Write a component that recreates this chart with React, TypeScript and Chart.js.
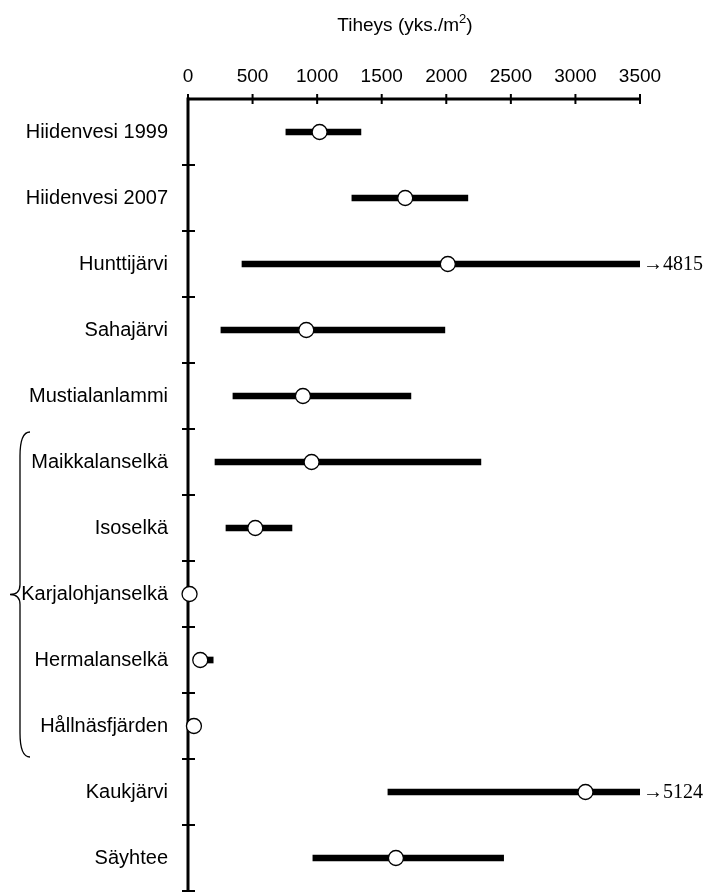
import { useEffect, useRef } from "react";
import { Chart, registerables } from "chart.js";

Chart.register(...registerables);

const categories = [
  "Hiidenvesi 1999",
  "Hiidenvesi 2007",
  "Hunttijärvi",
  "Sahajärvi",
  "Mustialanlammi",
  "Maikkalanselkä",
  "Isoselkä",
  "Karjalohjanselkä",
  "Hermalanselkä",
  "Hållnäsfjärden",
  "Kaukjärvi",
  "Säyhtee",
];
const means = [1019, 1682, 2012, 916, 890, 957, 521, 12, 95, 46, 3078, 1610];
const lows: (number | null)[] = [758, 1269, 418, 255, 348, 209, 294, null, 60, 10, 1548, 967];
const highs: (number | null)[] = [1339, 2167, 4815, 1989, 1726, 2268, 805, null, 195, 80, 5124, 2444];
const xTicks = [0, 500, 1000, 1500, 2000, 2500, 3000, 3500];
const xMin = 0;
const xMax = 3500;
const axisTitleMain = "Tiheys (yks./m";
const axisTitleSup = "2";
const axisTitleEnd = ")";
const groupFirst = 5; // Maikkalanselkä
const groupLast = 9; // Hållnäsfjärden

const SANS = "'Liberation Sans', Arial, sans-serif";
const SERIF = "'Liberation Serif', 'Times New Roman', serif";

const customPlugin = {
  id: "custom",
  beforeDatasetsDraw(chart: any) {
    const ctx = chart.ctx;
    const xs = chart.scales.x;
    const ys = chart.scales.y;
    const { left, right, top, bottom } = chart.chartArea;
    ctx.save();
    ctx.strokeStyle = "#000";
    ctx.lineWidth = 3;
    ctx.beginPath();
    ctx.moveTo(left, top);
    ctx.lineTo(right + 1, top);
    ctx.stroke();
    ctx.beginPath();
    ctx.moveTo(left, top - 1.5);
    ctx.lineTo(left, bottom);
    ctx.stroke();
    ctx.lineWidth = 2;
    xTicks.forEach((v) => {
      const px = xs.getPixelForValue(v);
      ctx.beginPath();
      ctx.moveTo(px, top - 5);
      ctx.lineTo(px, top + 5);
      ctx.stroke();
    });
    for (let i = 0; i < categories.length; i++) {
      const py = ys.getPixelForValue(i + 0.5);
      ctx.beginPath();
      ctx.moveTo(left - 6, py);
      ctx.lineTo(left + 7, py);
      ctx.stroke();
    }
    ctx.restore();
  },
  afterDatasetsDraw(chart: any) {
    const ctx = chart.ctx;
    const xs = chart.scales.x;
    const ys = chart.scales.y;
    const { right } = chart.chartArea;
    ctx.save();
    ctx.fillStyle = "#000";
    ctx.font = `20px ${SERIF}`;
    ctx.textAlign = "left";
    ctx.textBaseline = "middle";
    highs.forEach((h, i) => {
      if (h != null && h > xMax) {
        ctx.fillText("\u2192" + h, right + 3, ys.getPixelForValue(i) + 1);
      }
    });
    const y1 = ys.getPixelForValue(groupFirst - 0.5) + 3;
    const y2 = ys.getPixelForValue(groupLast + 0.5) - 2;
    const ym = (y1 + y2) / 2;
    const x0 = 30;
    const xm = 20;
    const xt = 10;
    const r1 = 24;
    const r2 = 10;
    ctx.strokeStyle = "#000";
    ctx.lineWidth = 1.3;
    ctx.beginPath();
    ctx.moveTo(x0, y1);
    ctx.quadraticCurveTo(xm, y1, xm, y1 + r1);
    ctx.lineTo(xm, ym - r2);
    ctx.quadraticCurveTo(xm, ym, xt, ym);
    ctx.quadraticCurveTo(xm, ym, xm, ym + r2);
    ctx.lineTo(xm, y2 - r1);
    ctx.quadraticCurveTo(xm, y2, x0, y2);
    ctx.stroke();
    const cx = (xs.getPixelForValue(xMin) + xs.getPixelForValue(xMax)) / 2 - 9;
    const ty = 24;
    ctx.font = `19px ${SANS}`;
    const w1 = ctx.measureText(axisTitleMain).width;
    const w3 = ctx.measureText(axisTitleEnd).width;
    ctx.font = `13px ${SANS}`;
    const w2 = ctx.measureText(axisTitleSup).width;
    const total = w1 + w2 + w3;
    let x = cx - total / 2;
    ctx.textAlign = "left";
    ctx.textBaseline = "alphabetic";
    ctx.font = `19px ${SANS}`;
    ctx.fillText(axisTitleMain, x, ty + 7);
    x += w1;
    ctx.font = `13px ${SANS}`;
    ctx.fillText(axisTitleSup, x, ty - 1);
    x += w2;
    ctx.font = `19px ${SANS}`;
    ctx.fillText(axisTitleEnd, x, ty + 7);
    ctx.restore();
  },
};

export default function App() {
  const canvasRef = useRef<HTMLCanvasElement | null>(null);

  useEffect(() => {
    const canvas = canvasRef.current;
    if (!canvas) return;
    const rangeData = lows.map((l, i) => {
      const h = highs[i];
      return l == null || h == null ? null : [l, h];
    });
    const chart = new Chart(canvas, {
      type: "bar",
      data: {
        labels: categories,
        datasets: [
          {
            type: "line",
            label: "Keskiarvo",
            data: means,
            indexAxis: "y",
            showLine: false,
            pointRadius: 7.5,
            pointHoverRadius: 7.5,
            pointBackgroundColor: "#fff",
            pointBorderColor: "#000",
            pointBorderWidth: 1.3,
            borderColor: "#000",
            backgroundColor: "#fff",
            clip: false,
            order: 1,
          } as any,
          {
            type: "bar",
            label: "Vaihteluväli",
            data: rangeData as any,
            backgroundColor: "#000",
            borderWidth: 0,
            barThickness: 6,
            borderSkipped: false,
            order: 2,
          } as any,
        ],
      },
      options: {
        indexAxis: "y",
        animation: false,
        responsive: false,
        devicePixelRatio: 1,
        layout: { autoPadding: false, padding: { left: 0, right: 69, top: 0, bottom: 1 } },
        plugins: {
          legend: { display: false },
          tooltip: { enabled: false },
          title: { display: false },
        },
        scales: {
          x: {
            type: "linear",
            position: "top",
            min: xMin,
            max: xMax,
            afterBuildTicks: (scale: any) => {
              scale.ticks = xTicks.map((v) => ({ value: v }));
            },
            grid: { display: false, drawTicks: false },
            border: { display: false },
            ticks: {
              color: "#000",
              font: { family: SANS, size: 19 },
              padding: 11,
              maxRotation: 0,
              autoSkip: false,
              callback: (v: any) => String(v),
            },
            afterFit: (scale: any) => {
              scale.height = 99;
              scale.paddingLeft = 0;
              scale.paddingRight = 0;
            },
          },
          y: {
            type: "category",
            position: "left",
            offset: true,
            grid: { display: false, drawTicks: false, offset: true },
            border: { display: false },
            ticks: {
              color: "#000",
              font: { family: SANS, size: 20 },
              padding: 20,
              autoSkip: false,
            },
            afterFit: (scale: any) => {
              scale.width = 188;
              scale.paddingTop = 0;
              scale.paddingBottom = 0;
            },
          },
        },
      },
      plugins: [customPlugin],
    });
    return () => chart.destroy();
  }, []);

  return (
    <div style={{ position: "absolute", left: 0, top: 0, width: 709, height: 892, background: "#fff" }}>
      <canvas ref={canvasRef} width={709} height={892} style={{ display: "block" }} />
    </div>
  );
}
